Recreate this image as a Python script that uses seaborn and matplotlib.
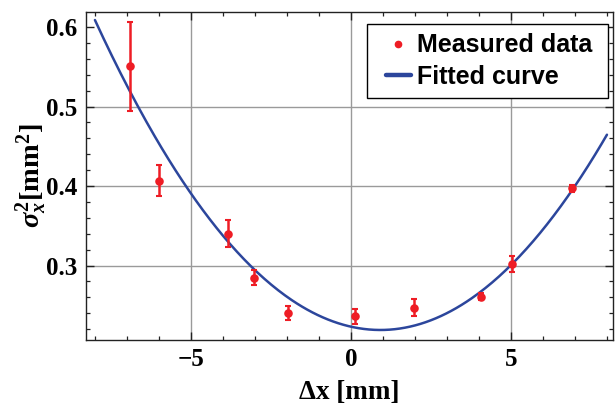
import numpy as np
import pandas as pd
import seaborn as sns
import matplotlib.pyplot as plt
from matplotlib.lines import Line2D
from matplotlib.legend_handler import HandlerLine2D
from matplotlib.ticker import MultipleLocator

# measured points
dx = [-6.91, -5.99, -3.83, -3.03, -1.98, 0.12, 1.98, 4.05, 5.04, 6.92]
sigma2 = [0.551, 0.407, 0.340, 0.285, 0.240, 0.236, 0.247, 0.261, 0.302, 0.397]
sigma2_err = [0.056, 0.019, 0.017, 0.010, 0.009, 0.0095, 0.0105, 0.004, 0.0097, 0.004]

# fitted parabola: vertex and curvature
fit_x0 = 0.92
fit_ymin = 0.219
fit_a = 0.0049
fit_range = (-8, 8)

sns.set_theme(style="white")
plt.rcParams['font.family'] = ['Liberation Serif', 'DejaVu Serif']
plt.rcParams['mathtext.fontset'] = 'custom'
plt.rcParams['mathtext.rm'] = 'Liberation Serif:bold'
plt.rcParams['mathtext.it'] = 'Liberation Serif:bold:italic'
plt.rcParams['mathtext.bf'] = 'Liberation Serif:bold'
plt.rcParams['text.color'] = 'black'
plt.rcParams['axes.labelcolor'] = 'black'
plt.rcParams['xtick.color'] = 'black'
plt.rcParams['ytick.color'] = 'black'

red = '#EE1D25'
blue = '#2C469C'

fig = plt.figure(figsize=(6.15, 4.05), dpi=100)
ax = fig.add_axes([0.1398, 0.1605, 0.857, 0.8105])

xs = np.linspace(fit_range[0], fit_range[1], 300)
curve = pd.DataFrame({'x': xs, 'y': fit_ymin + fit_a * (xs - fit_x0) ** 2})
df = pd.DataFrame({'x': dx, 'y': sigma2, 'err': sigma2_err})

# grid lines only where Mathematica drew them
for gx in [-5, 0, 5]:
    ax.axvline(gx, color='#9a9a9a', lw=1.0, zorder=0)
for gy in [0.3, 0.4, 0.5]:
    ax.axhline(gy, color='#9a9a9a', lw=1.0, zorder=0)

sns.lineplot(data=curve, x='x', y='y', ax=ax, color=blue, lw=1.8, zorder=2)
ax.errorbar(df.x, df.y, yerr=df.err, fmt='none', ecolor=red, elinewidth=1.8,
            capsize=2.5, capthick=1.5, zorder=3)
sns.scatterplot(data=df, x='x', y='y', ax=ax, color=red, s=38, edgecolor=red,
                linewidth=0, zorder=4)

ax.set_xlim(-8.28, 8.19)
ax.set_ylim(0.2064, 0.6193)
ax.xaxis.set_major_locator(MultipleLocator(5))
ax.xaxis.set_minor_locator(MultipleLocator(1))
ax.yaxis.set_major_locator(MultipleLocator(0.1))
ax.yaxis.set_minor_locator(MultipleLocator(0.02))
ax.set_xticks([-5, 0, 5])
ax.set_xticklabels(['\u22125', '0', '5'])
ax.set_yticks([0.3, 0.4, 0.5, 0.6])
ax.set_yticklabels(['0.3', '0.4', '0.5', '0.6'])
ax.tick_params(which='both', direction='in', top=True, right=True,
               bottom=True, left=True, color='#222222')
ax.tick_params(which='major', length=5.5, width=1.0, labelsize=18, pad=6)
ax.tick_params(which='minor', length=3, width=0.9)
for lab in ax.get_xticklabels() + ax.get_yticklabels():
    lab.set_fontweight('bold')
for sp in ax.spines.values():
    sp.set_color('#222222')
    sp.set_linewidth(1.0)

ax.set_xlabel('\u0394x [mm]', fontsize=19.5, fontweight='bold', labelpad=6)
ax.set_ylabel(r'$\sigma_x^2$[mm$^2$]', fontsize=20.5, fontweight='bold', labelpad=-2)

handles = [Line2D([], [], ls='none', marker='o', color=red, markersize=4.5),
           Line2D([], [], color=blue, lw=3.2)]
leg = ax.legend(handles, ['Measured data ', 'Fitted curve '], loc='upper right',
                bbox_to_anchor=(0.991, 0.9616), borderaxespad=0, fancybox=False,
                framealpha=1, edgecolor='black', handlelength=1.4, handletextpad=0.25,
                labelspacing=0.3, borderpad=0.36,
                handler_map={Line2D: HandlerLine2D(xpad=0.4)},
                prop={'family': 'Liberation Sans', 'weight': 'bold', 'size': 18})
leg.get_frame().set_linewidth(1.0)

fig.savefig('out.png', dpi=100)
